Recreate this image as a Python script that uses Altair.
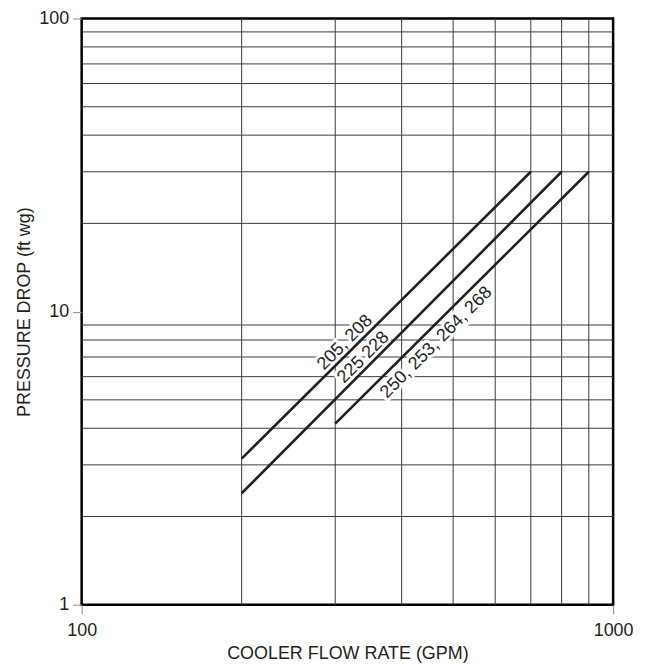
import altair as alt
import pandas as pd

# Gridline positions
x_grid = [200, 300, 400, 500, 600, 700, 800, 900]
y_grid = [2, 3, 4, 5, 6, 7, 8, 9, 20, 30, 40, 50, 60, 70, 80, 90]

# Series (straight lines on log-log axes)
series_names = ["205, 208", "225 228", "250, 253, 264, 268"]
flow_start = [200, 200, 300]
flow_end = [700, 800, 900]
drop_start = [3.15, 2.4, 4.15]
drop_end = [30, 30, 30]

# Inline label anchors
label_flow = [313, 339, 465]
label_drop = [7.84, 6.97, 7.84]

x_ticks = [100, 1000]
y_ticks = [1, 10, 100]

FONT = "Liberation Sans"
INK = "#231f20"

lines_df = pd.DataFrame({
    "series": series_names * 2,
    "flow": flow_start + flow_end,
    "drop": drop_start + drop_end,
})
labels_df = pd.DataFrame({"series": series_names, "flow": label_flow, "drop": label_drop})
xg_df = pd.DataFrame({"flow": x_grid})
yg_df = pd.DataFrame({"drop": y_grid})

xscale = alt.Scale(type="log", domain=[100, 1000], nice=False)
yscale = alt.Scale(type="log", domain=[1, 100], nice=False)

xaxis = alt.Axis(values=x_ticks, format="d", grid=False, domain=False,
                 tickSize=9, tickColor="#888888", labelPadding=8,
                 titlePadding=5, labelFlush=False)
yaxis = alt.Axis(values=y_ticks, format="d", grid=False, domain=False,
                 tickSize=9, tickColor="#888888", labelPadding=4,
                 titlePadding=5, labelFlush=False)
XT = "COOLER FLOW RATE (GPM)"
YT = "PRESSURE DROP (ft wg)"


def X():
    return alt.X("flow:Q", scale=xscale, title=XT, axis=xaxis)


def Y():
    return alt.Y("drop:Q", scale=yscale, title=YT, axis=yaxis)


xgrid = alt.Chart(xg_df).mark_rule(color="#3a3a3a", strokeWidth=1).encode(x=X())
ygrid = alt.Chart(yg_df).mark_rule(color="#3a3a3a", strokeWidth=1).encode(y=Y())

halo = alt.Chart(labels_df).mark_text(
    angle=315, font=FONT, fontSize=18, align="center", baseline="middle",
    stroke="white", strokeWidth=6, color="white"
).encode(x=X(), y=Y(), text="series:N")

lines = alt.Chart(lines_df).mark_line(color=INK, strokeWidth=2.6).encode(
    x=X(), y=Y(), detail="series:N"
)

text = alt.Chart(labels_df).mark_text(
    angle=315, font=FONT, fontSize=18, align="center", baseline="middle", color=INK
).encode(x=X(), y=Y(), text="series:N")

chart = alt.layer(xgrid, ygrid, halo, lines, text).properties(
    width=534, height=589,
    padding={"left": 7, "top": 0, "right": 5, "bottom": 0},
    background="white",
).configure_view(
    stroke="black", strokeWidth=2.5
).configure_axis(
    labelFont=FONT, titleFont=FONT, labelFontSize=18, titleFontSize=18,
    labelColor=INK, titleColor=INK, titleFontWeight="normal",
)

chart.save("out.html", embed_options={"renderer": "svg", "actions": False})
